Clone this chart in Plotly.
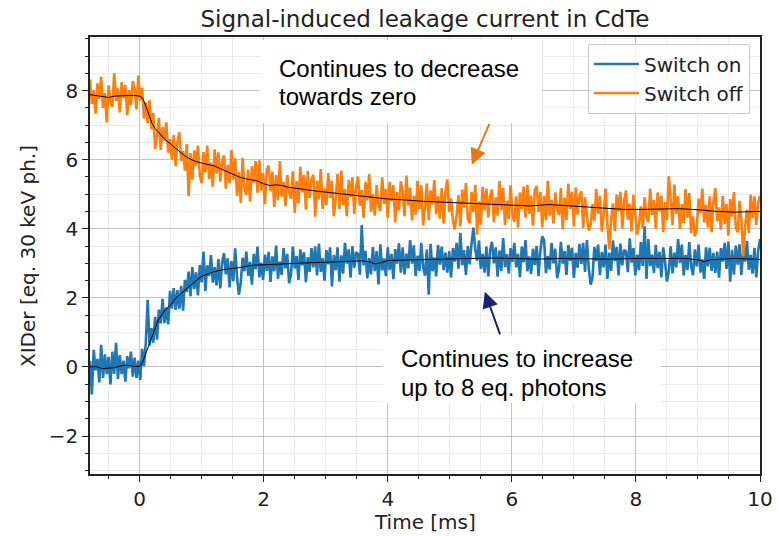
import numpy as np
import plotly.graph_objects as go

# ---------------- data ----------------
N_SAMPLES = 361
T_START = -0.8
T_STEP = 0.03
time_ms = np.round(T_START + T_STEP * np.arange(N_SAMPLES), 2)

switch_off_raw = [
    8.32, 7.61, 8.00, 7.33, 8.21, 7.76, 8.40, 7.50, 7.93, 7.08, 8.15, 7.68,
    7.53, 8.50, 7.70, 8.06, 7.37, 8.24, 7.78, 8.16, 7.29, 8.01, 7.58, 8.27,
    8.05, 7.45, 8.43, 7.71, 8.08, 7.19, 7.66, 7.06, 7.72, 6.88, 7.35, 6.31,
    6.67, 7.21, 6.28, 6.95, 6.55, 7.08, 6.20, 6.59, 6.01, 6.71, 5.81, 6.53,
    6.79, 5.96, 6.25, 5.68, 6.45, 4.94, 6.19, 5.42, 6.27, 5.83, 6.40, 5.54,
    5.32, 6.22, 5.63, 6.41, 5.44, 5.91, 5.22, 6.30, 5.60, 6.21, 5.36, 5.96,
    6.12, 5.16, 5.85, 5.31, 6.28, 5.42, 6.04, 4.95, 5.64, 4.75, 6.05, 5.19,
    4.98, 5.71, 4.79, 5.81, 5.32, 5.96, 5.04, 5.98, 5.11, 5.61, 4.71, 5.71,
    5.83, 5.08, 5.65, 4.63, 5.55, 4.82, 5.96, 4.93, 5.36, 4.66, 5.55, 5.06,
    4.87, 5.66, 4.46, 5.38, 4.73, 5.79, 5.05, 5.55, 4.55, 5.67, 4.89, 5.44,
    5.56, 4.35, 5.39, 4.84, 5.73, 4.57, 5.17, 4.68, 5.61, 4.89, 5.39, 4.36,
    4.86, 5.59, 4.57, 5.68, 4.68, 5.15, 4.36, 5.41, 4.92, 5.49, 4.43, 5.22,
    5.51, 4.66, 5.12, 4.31, 5.36, 4.82, 5.58, 4.49, 5.01, 4.38, 5.26, 4.69,
    4.52, 5.49, 4.72, 5.15, 4.31, 5.36, 4.80, 5.26, 4.19, 5.06, 4.53, 5.37,
    5.09, 4.36, 5.54, 4.68, 5.19, 4.24, 4.95, 4.41, 5.39, 4.56, 5.26, 4.10,
    4.60, 5.31, 4.25, 5.11, 4.70, 5.41, 4.42, 4.94, 4.29, 5.18, 4.15, 5.06,
    5.43, 4.48, 4.88, 4.24, 3.98, 4.40, 4.97, 4.07, 5.13, 4.61, 5.32, 4.29,
    4.16, 5.07, 4.49, 5.27, 3.83, 4.79, 4.12, 5.21, 4.53, 5.16, 4.33, 4.95,
    5.13, 4.19, 4.91, 4.38, 5.38, 4.54, 5.18, 4.11, 4.81, 4.28, 5.26, 4.41,
    4.20, 4.94, 4.03, 5.05, 4.57, 5.22, 4.32, 5.27, 4.43, 4.96, 4.09, 5.11,
    5.24, 4.49, 5.06, 4.03, 4.95, 4.24, 5.39, 4.38, 4.84, 4.15, 5.05, 4.57,
    4.39, 5.18, 3.98, 4.90, 4.25, 5.31, 4.57, 5.07, 4.07, 5.19, 4.41, 4.96,
    5.08, 4.02, 4.91, 4.37, 3.95, 4.10, 4.71, 4.23, 5.15, 4.44, 4.95, 3.92,
    4.42, 5.16, 4.14, 3.40, 4.25, 4.73, 3.93, 4.99, 4.50, 5.07, 4.01, 4.81,
    5.11, 4.26, 4.73, 3.92, 4.98, 4.44, 3.83, 4.12, 4.65, 4.02, 4.91, 4.34,
    4.19, 5.16, 4.40, 4.83, 4.00, 5.05, 4.50, 4.96, 3.90, 4.77, 4.25, 5.52,
    4.83, 4.10, 5.28, 4.43, 4.94, 3.99, 4.71, 4.17, 5.15, 4.32, 5.03, 3.87,
    4.36, 3.78, 4.00, 4.87, 4.45, 5.16, 4.18, 4.69, 4.04, 4.94, 3.90, 4.81,
    5.17, 4.22, 4.62, 3.97, 4.95, 4.14, 4.71, 3.80, 4.86, 4.35, 5.06, 4.03,
    3.90, 4.81, 4.24, 3.20, 4.07, 4.55, 3.88, 4.99, 4.31, 4.94, 4.11, 4.73,
    4.95,
]

switch_on_raw = [
    0.17, -0.80, 0.49, -0.10, 0.23, -0.45, 0.64, -0.32, 0.36, -0.21, 0.29, -0.51,
    0.44, -0.20, 0.70, -0.35, 0.34, -0.21, 0.18, -0.43, 0.31, -0.04, 0.44, -0.28,
    0.27, -0.32, 0.18, -0.38, 0.52, 0.02, 0.72, 1.94, 0.62, 1.12, 0.70, 1.45,
    0.79, 1.66, 1.26, 1.97, 1.27, 1.72, 1.23, 2.20, 1.69, 2.28, 1.65, 2.22,
    1.68, 2.35, 1.63, 2.52, 2.17, 2.76, 2.05, 2.89, 2.25, 2.74, 2.07, 2.95,
    2.45, 3.34, 2.20, 2.94, 2.63, 3.24, 2.44, 2.89, 2.36, 3.12, 2.27, 3.04,
    3.29, 2.68, 3.14, 2.30, 3.06, 2.48, 3.43, 2.60, 2.09, 2.42, 3.16, 2.77,
    3.34, 2.64, 3.04, 2.38, 3.27, 2.83, 3.48, 2.59, 3.02, 2.52, 3.25, 2.78,
    3.33, 2.46, 3.20, 2.77, 3.51, 2.55, 3.05, 2.66, 3.44, 2.85, 3.27, 2.42,
    2.67, 3.48, 2.85, 3.21, 2.52, 3.40, 2.94, 3.32, 2.45, 3.18, 2.75, 3.44,
    2.88, 3.49, 2.65, 3.57, 2.75, 3.15, 2.50, 3.38, 2.97, 3.46, 2.33, 3.24,
    2.80, 3.46, 2.47, 3.23, 2.70, 3.59, 2.99, 3.40, 2.58, 3.50, 2.87, 3.32,
    3.27, 2.67, 4.11, 2.94, 3.36, 2.56, 3.15, 2.68, 3.47, 2.77, 3.35, 2.39,
    3.55, 2.79, 3.14, 2.63, 3.46, 2.80, 3.27, 2.54, 3.41, 2.99, 3.58, 2.73,
    3.46, 2.68, 3.28, 2.85, 3.67, 2.99, 3.52, 2.63, 3.22, 2.78, 3.59, 2.89,
    2.64, 3.40, 2.09, 3.56, 2.77, 3.17, 2.62, 3.53, 2.96, 3.48, 2.80, 3.31,
    2.73, 3.35, 2.59, 3.44, 3.05, 3.59, 2.84, 3.88, 2.94, 3.38, 2.66, 3.50,
    2.97, 3.56, 4.03, 3.40, 3.07, 3.66, 2.84, 3.27, 2.73, 3.48, 2.62, 3.38,
    3.62, 3.00, 3.46, 2.61, 3.37, 2.78, 3.73, 2.89, 3.26, 2.70, 3.44, 3.04,
    3.59, 2.88, 3.27, 2.60, 3.48, 3.03, 3.67, 2.77, 3.20, 2.69, 3.42, 2.95,
    3.50, 2.63, 3.37, 3.78, 3.67, 2.71, 3.21, 2.82, 3.59, 3.00, 3.42, 2.57,
    2.82, 3.62, 2.99, 3.35, 2.66, 3.53, 3.07, 3.45, 2.58, 3.30, 2.87, 3.56,
    2.98, 3.59, 2.75, 3.67, 2.84, 2.38, 2.59, 3.47, 3.06, 3.54, 2.66, 3.32,
    2.88, 3.54, 2.55, 3.31, 2.78, 3.66, 3.06, 3.47, 2.65, 3.57, 2.94, 3.39,
    3.34, 2.74, 3.72, 3.02, 3.44, 2.65, 3.25, 2.80, 3.61, 2.92, 4.07, 2.55,
    3.70, 2.92, 3.25, 2.72, 3.53, 2.86, 3.33, 2.59, 3.46, 3.04, 2.47, 2.78,
    3.49, 2.71, 3.31, 2.88, 3.70, 3.01, 3.54, 2.65, 3.24, 2.80, 3.61, 2.91,
    2.65, 3.40, 2.91, 3.54, 2.73, 3.11, 2.55, 3.46, 2.91, 3.45, 2.78, 3.30,
    2.72, 3.34, 2.58, 3.44, 3.05, 3.59, 2.84, 3.63, 2.47, 3.39, 2.67, 3.51,
    2.96, 3.55, 2.66, 3.38, 3.05, 3.64, 2.81, 3.24, 2.70, 3.45, 2.59, 3.35,
    3.70,
]

off_smooth_t = [-0.8, -0.7, -0.6, -0.5, -0.4, -0.3, -0.2, -0.1, 0.0,
                0.05, 0.1, 0.15, 0.2, 0.25, 0.3,
                0.4, 0.5, 0.6, 0.7, 0.8, 0.9, 1.0,
                1.1, 1.2, 1.3, 1.4, 1.5, 1.6, 1.7, 1.8, 1.9, 2.0,
                2.1, 2.2, 2.3, 2.4, 2.5, 2.6,
                2.8, 3.0, 3.2, 3.4, 3.6, 3.8, 4.0,
                4.3, 4.6, 5.0, 5.3, 5.6, 6.0,
                6.3, 6.6, 6.9, 7.2, 7.5, 7.8,
                8.1, 8.4, 8.7, 9.0, 9.3, 9.6, 10.0]
off_smooth_v = [7.88, 7.86, 7.83, 7.80, 7.84, 7.85, 7.85, 7.86, 7.84,
                7.78, 7.55, 7.30, 7.05, 6.90, 6.80,
                6.60, 6.45, 6.30, 6.15, 6.03, 5.95, 5.90,
                5.86, 5.82, 5.74, 5.66, 5.58, 5.50, 5.45, 5.42, 5.38, 5.30,
                5.25, 5.27, 5.25, 5.20, 5.17, 5.14,
                5.10, 5.06, 5.02, 4.97, 4.93, 4.89, 4.86,
                4.83, 4.79, 4.76, 4.74, 4.72, 4.68,
                4.66, 4.70, 4.67, 4.62, 4.59, 4.56,
                4.56, 4.57, 4.58, 4.55, 4.50, 4.48, 4.50]

on_smooth_t = [-0.8, -0.7, -0.6, -0.5, -0.4, -0.3, -0.2, -0.1, 0.0,
               0.05, 0.1, 0.15, 0.2,
               0.3, 0.4, 0.5, 0.6, 0.7, 0.8, 0.9, 1.0,
               1.2, 1.4, 1.6, 1.8, 2.0,
               2.2, 2.4, 2.6, 2.8, 3.0,
               3.2, 3.4, 3.6, 3.7, 3.8, 3.9, 4.0,
               4.4, 4.8, 5.2, 5.6, 6.0,
               6.4, 6.8, 7.2, 7.6, 8.0,
               8.4, 8.8, 9.0, 9.1, 9.2, 9.6, 10.0]
on_smooth_v = [0.00, 0.01, -0.05, -0.03, -0.02, 0.03, 0.05, 0.02, 0.01,
               0.15, 0.40, 0.65, 0.88,
               1.36, 1.62, 1.80, 2.02, 2.18, 2.32, 2.48, 2.62,
               2.76, 2.83, 2.87, 2.94, 2.96,
               2.96, 2.98, 3.00, 3.02, 3.03,
               3.05, 3.06, 3.07, 3.04, 2.98, 3.02, 3.08,
               3.10, 3.12, 3.13, 3.15, 3.14,
               3.12, 3.14, 3.13, 3.12, 3.14,
               3.15, 3.14, 3.10, 3.05, 3.10, 3.14, 3.11]

series_names = ["Switch on", "Switch off"]
title_text = "Signal-induced leakage current in CdTe"
x_label = "Time [ms]"
y_label = "XIDer [eq. 30 keV ph.]"
note_off_lines = ["Continues to decrease", "towards zero"]
note_on_lines = ["Continues to increase", "up to 8 eq. photons"]

# ---------------- styles ----------------
BLUE = "#1f77b4"
ORANGE = "#ff7f0e"
ARROW_ORANGE = "#ee7410"
ARROW_NAVY = "#1b2378"
FONT = "DejaVu Sans"
NOTE_FONT = "Liberation Sans"
INK = "#222222"

fig = go.Figure()
fig.add_trace(go.Scatter(x=time_ms, y=switch_on_raw, mode="lines", showlegend=False,
                         line=dict(color=BLUE, width=2.6, simplify=False)))
fig.add_trace(go.Scatter(x=time_ms, y=switch_off_raw, mode="lines", showlegend=False,
                         line=dict(color=ORANGE, width=2.6, simplify=False)))
fig.add_trace(go.Scatter(x=on_smooth_t, y=on_smooth_v, mode="lines", showlegend=False,
                         line=dict(color="black", width=1)))
fig.add_trace(go.Scatter(x=off_smooth_t, y=off_smooth_v, mode="lines", showlegend=False,
                         line=dict(color="black", width=1)))
# legend entries (no data)
fig.add_trace(go.Scatter(x=[None], y=[None], mode="lines", name=series_names[0],
                         line=dict(color=BLUE, width=2.5)))
fig.add_trace(go.Scatter(x=[None], y=[None], mode="lines", name=series_names[1],
                         line=dict(color=ORANGE, width=2.5)))

axis_common = dict(
    showline=True, linecolor=INK, linewidth=1.5, mirror=True,
    ticks="outside", ticklen=6, tickwidth=1.3, tickcolor=INK,
    showgrid=True, gridcolor="#c4c4c4", gridwidth=1.4,
    zeroline=False, automargin=False,
    tickfont=dict(family=FONT, size=20, color=INK),
)
minor_common = dict(dtick=0.5, tick0=0, ticks="outside", ticklen=3.5,
                    tickcolor=INK, tickwidth=1,
                    showgrid=True, gridcolor="#ebebeb", gridwidth=1)

fig.update_xaxes(range=[-0.8, 10], tick0=0, dtick=2, minor=minor_common, **axis_common)
fig.update_yaxes(range=[-3.1, 9.55], tick0=0, dtick=2, minor=minor_common, **axis_common)

fig.update_layout(
    width=779, height=536,
    margin=dict(l=90, r=19, t=37, b=62),
    plot_bgcolor="white", paper_bgcolor="white",
    font=dict(family=FONT, size=20, color=INK),
    title=dict(text=title_text, font=dict(family=FONT, size=23, color=INK),
               x=0.5, xref="paper", xanchor="center",
               y=1 - 18.5 / 536, yref="container", yanchor="middle"),
    legend=dict(x=0.985, y=0.985, xanchor="right", yanchor="top",
                bgcolor="rgba(255,255,255,0.8)", bordercolor="#cccccc", borderwidth=1,
                itemwidth=45,
                font=dict(family=FONT, size=20, color=INK)),
    showlegend=True,
)

# white boxes behind the notes
fig.add_shape(type="rect", xref="paper", yref="paper",
              x0=0.2537, x1=0.6746, y0=0.8032, y1=0.9931,
              fillcolor="white", line=dict(width=0), layer="above")
fig.add_shape(type="rect", xref="paper", yref="paper",
              x0=0.4373, x1=0.8522, y0=0.1625, y1=0.3181,
              fillcolor="white", line=dict(width=0), layer="above")

note_font = dict(family=NOTE_FONT, size=24, color="black")
for txt, yy in zip(note_off_lines, [0.9279, 0.8629]):
    fig.add_annotation(text=txt, xref="paper", yref="paper", x=0.2791, y=yy,
                       xanchor="left", yanchor="middle", align="left", showarrow=False,
                       font=note_font)
for txt, yy in zip(note_on_lines, [0.2650, 0.1968]):
    fig.add_annotation(text=txt, xref="paper", yref="paper", x=0.4607, y=yy,
                       xanchor="left", yanchor="middle", align="left", showarrow=False,
                       font=note_font)

# arrows
fig.add_annotation(text="", x=5.355, y=5.855, ax=5.645, ay=7.07,
                   xref="x", yref="y", axref="x", ayref="y",
                   showarrow=True, arrowhead=2, arrowsize=1.6, arrowwidth=2,
                   arrowcolor=ARROW_ORANGE, standoff=0)
fig.add_annotation(text="", x=5.565, y=2.174, ax=5.818, ay=0.897,
                   xref="x", yref="y", axref="x", ayref="y",
                   showarrow=True, arrowhead=2, arrowsize=1.6, arrowwidth=2,
                   arrowcolor=ARROW_NAVY, standoff=0)

# axis titles
fig.add_annotation(text=x_label, xref="paper", yref="paper", x=0.5, y=-0.1098,
                   xanchor="center", yanchor="middle", showarrow=False,
                   font=dict(family=FONT, size=20, color=INK))
fig.add_annotation(text=y_label, xref="paper", yref="paper", x=-0.0933, y=0.5,
                   xanchor="center", yanchor="middle", showarrow=False, textangle=-90,
                   font=dict(family=FONT, size=20, color=INK))

fig.write_html("out.html", config={"displayModeBar": False})
